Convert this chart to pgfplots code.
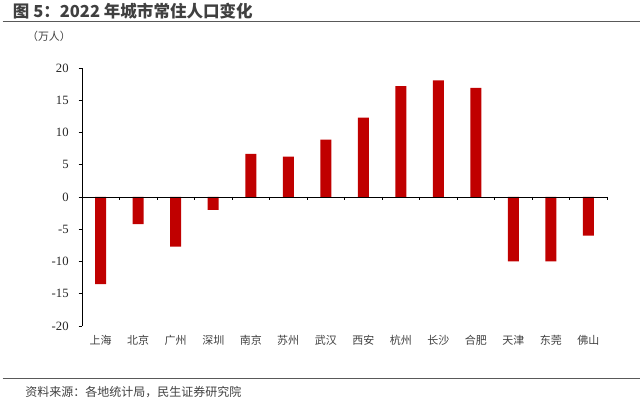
\documentclass[border=0pt]{standalone}
\usepackage{pgfplots}
\pgfplotsset{compat=1.18}
\usepackage{fontspec}
\setmainfont{Noto Sans CJK SC}
\newfontfamily\cjk{Noto Sans CJK SC}
\newfontfamily\tickfont{Liberation Serif}
\definecolor{barred}{HTML}{C00000}
\definecolor{txtgray}{HTML}{404040}
\definecolor{linegray}{HTML}{595959}
\begin{document}
\begin{tikzpicture}
\useasboundingbox (0,0) rectangle (480pt,300pt);
\node[anchor=west, inner sep=0pt, text=txtgray, font=\cjk\bfseries\fontsize{12.4}{12.4}\selectfont] at (9.5pt,291.4pt) {图 5：2022 年城市常住人口变化};
\draw[linegray, line width=1.1pt] (2pt,283.75pt) -- (480pt,283.75pt);
\node[inner sep=0pt, text=txtgray, font=\cjk\fontsize{8.2}{8.2}\selectfont] at (36.75pt,272.5pt) {（万人）};
\draw[linegray, line width=1pt] (2pt,16.25pt) -- (480pt,16.25pt);
\node[anchor=west, inner sep=0pt, text=txtgray, font=\cjk\fontsize{9}{9}\selectfont] at (18.75pt,6.25pt) {资料来源：各地统计局，民生证券研究院};
\begin{axis}[
  at={(61.5pt,55.5pt)}, anchor=south west,
  scale only axis, width=393.75pt, height=193.5pt,
  xmin=-0.5, xmax=13.5, ymin=-20, ymax=20,
  axis y line*=left, axis x line*=bottom,
  x axis line style={draw=none},
  xtick=data,
  xticklabels={上海,北京,广州,深圳,南京,苏州,武汉,西安,杭州,长沙,合肥,天津,东莞,佛山},
  x tick style={draw=none},
  xticklabel style={font=\cjk\fontsize{8.25}{8.25}\selectfont, text=txtgray, yshift=-1pt},
  ytick={-20,-15,...,20},
  yticklabel={\tickfont\fontsize{9.5}{9.5}\selectfont\pgfmathprintnumber[assume math mode=true]{\tick}},
  tick align=outside,
  major tick length=2.5pt,
  y tick style={black, line width=0.6pt},
  y axis line style={black, line width=0.6pt},
  yticklabel style={text=black!85, xshift=-4pt},
  clip=false,
]
\addplot[ybar, bar width=8.25pt, fill=barred, draw=none] coordinates {
(0,-13.5) (1,-4.2) (2,-7.7) (3,-2.0) (4,6.7) (5,6.25) (6,8.9) (7,12.3) (8,17.2) (9,18.1) (10,16.9) (11,-10.0) (12,-10.0) (13,-6.0)
};
\draw[black, line width=0.6pt] (axis cs:-0.5,0) -- (axis cs:13.5,0);
\pgfplotsinvokeforeach{-0.5,0.5,1.5,2.5,3.5,4.5,5.5,6.5,7.5,8.5,9.5,10.5,11.5,12.5,13.5}{
  \draw[black, line width=0.6pt] (axis cs:#1,0) -- ([yshift=-2.5pt]axis cs:#1,0);
}
\end{axis}
\end{tikzpicture}
\end{document}
